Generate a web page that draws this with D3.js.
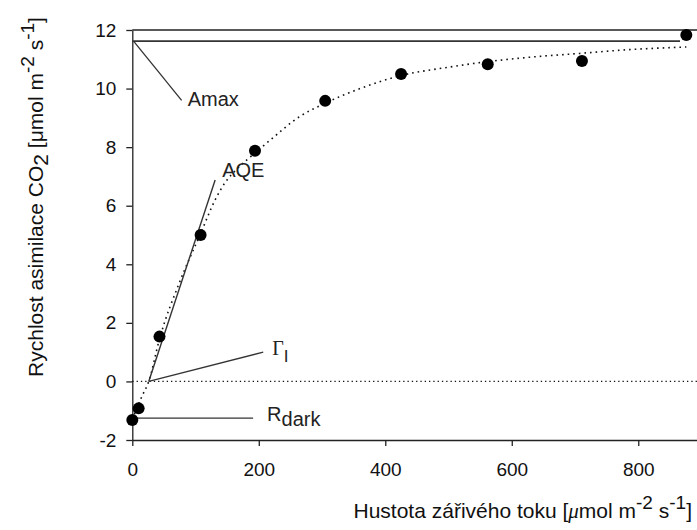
<!DOCTYPE html>
<html>
<head>
<meta charset="utf-8">
<script src="https://cdn.jsdelivr.net/npm/d3@7"></script>
<style>
  body { margin: 0; background: #fff; }
  svg { display: block; font-family: "Liberation Sans", Arial, sans-serif; }
</style>
</head>
<body>
<div id="chart"></div>
<script>
// measured points: light intensity (PAR) vs CO2 assimilation
var par = [0, 10, 43, 108, 194, 305, 425, 562, 711, 876];
var assim = [-1.32, -0.92, 1.53, 5.0, 7.88, 9.58, 10.5, 10.83, 10.94, 11.83];

// fitted light curve
var fitPar = [0, 15, 26, 43, 75, 108, 131, 147, 163, 194, 218, 265, 305, 360, 426, 497, 562, 628, 707, 786, 876];
var fitAssim = [-1.3, -0.52, 0, 1.45, 3.4, 5.05, 6.2, 6.8, 7.2, 7.8, 8.24, 9.05, 9.5, 10.0, 10.45, 10.72, 10.92, 11.07, 11.2, 11.33, 11.42];

var xTicks = [0, 200, 400, 600, 800];
var yTicks = [-2, 0, 2, 4, 6, 8, 10, 12];

// derived parameters
var amax = 11.62;
var rdark = -1.25;
var gammaPar = 26;
var aqeEnd = [131, 6.88];

var W = 697, H = 530;
var svg = d3.select("#chart").append("svg")
  .attr("width", W)
  .attr("height", H);

var x = d3.scaleLinear().domain([0, 900]).range([132.3, 701.5]);
var y = d3.scaleLinear().domain([-2, 12]).range([440, 30]);

var ink = "#222";
var plain = function (d) { return String(d); };

// x axis
var gx = svg.append("g")
  .attr("transform", "translate(0," + y(-2) + ")")
  .call(d3.axisBottom(x).tickValues(xTicks).tickFormat(plain).tickSize(6).tickSizeOuter(0).tickPadding(17));
gx.select(".domain").attr("stroke", ink).attr("stroke-width", 1.3);
gx.selectAll(".tick line").attr("stroke", ink).attr("stroke-width", 1.3);
gx.selectAll("text").attr("font-size", 19).attr("fill", "#111")
  .attr("font-family", "Liberation Sans, Arial, sans-serif");

// y axis
var gy = svg.append("g")
  .attr("transform", "translate(" + x(0) + ",0)")
  .call(d3.axisLeft(y).tickValues(yTicks).tickFormat(plain).tickSize(6).tickSizeOuter(0).tickPadding(10));
gy.select(".domain").attr("stroke", ink).attr("stroke-width", 1.3);
gy.selectAll(".tick line").attr("stroke", ink).attr("stroke-width", 1.3);
gy.selectAll("text").attr("font-size", 19).attr("fill", "#111")
  .attr("font-family", "Liberation Sans, Arial, sans-serif");

// top frame line
svg.append("line")
  .attr("x1", x(0)).attr("x2", W)
  .attr("y1", y(12)).attr("y2", y(12))
  .attr("stroke", ink).attr("stroke-width", 1.3);

// zero line (dotted)
svg.append("line")
  .attr("x1", x(0)).attr("x2", W)
  .attr("y1", y(0)).attr("y2", y(0))
  .attr("stroke", "#111").attr("stroke-width", 1.3)
  .attr("stroke-dasharray", "1.3,3");

// Amax line
svg.append("line")
  .attr("x1", x(0)).attr("x2", x(866))
  .attr("y1", y(amax)).attr("y2", y(amax))
  .attr("stroke", "#333").attr("stroke-width", 1.6);

// fitted curve (dotted)
var fit = fitPar.map(function (d, i) { return [d, fitAssim[i]]; });
var line = d3.line()
  .x(function (d) { return x(d[0]); })
  .y(function (d) { return y(d[1]); })
  .curve(d3.curveMonotoneX);
svg.append("path")
  .attr("d", line(fit))
  .attr("fill", "none")
  .attr("stroke", "#111")
  .attr("stroke-width", 1.6)
  .attr("stroke-dasharray", "1.6,4");

// AQE tangent
svg.append("line")
  .attr("x1", x(gammaPar)).attr("y1", y(0))
  .attr("x2", x(aqeEnd[0])).attr("y2", y(aqeEnd[1]))
  .attr("stroke", "#333").attr("stroke-width", 1.4);

// pointer lines
svg.append("line")
  .attr("x1", x(2)).attr("y1", y(amax))
  .attr("x2", x(78)).attr("y2", y(9.6))
  .attr("stroke", "#333").attr("stroke-width", 1.3);
svg.append("line")
  .attr("x1", x(gammaPar)).attr("y1", y(0))
  .attr("x2", x(207)).attr("y2", y(1.0))
  .attr("stroke", "#333").attr("stroke-width", 1.3);
svg.append("line")
  .attr("x1", x(0)).attr("y1", y(rdark))
  .attr("x2", x(191)).attr("y2", y(rdark))
  .attr("stroke", "#333").attr("stroke-width", 1.3);

// measured points
svg.selectAll("circle.pt")
  .data(par)
  .enter().append("circle")
  .attr("class", "pt")
  .attr("cx", function (d) { return x(d); })
  .attr("cy", function (d, i) { return y(assim[i]); })
  .attr("r", 6)
  .attr("fill", "#000");

// annotation labels
var lab = svg.append("g").attr("font-size", 20).attr("fill", "#222");
lab.append("text").attr("x", x(78) + 6).attr("y", y(9.6) + 6).text("Amax");
lab.append("text").attr("x", x(aqeEnd[0]) + 7).attr("y", y(aqeEnd[1]) - 3).text("AQE");

var g1 = lab.append("text").attr("x", x(207) + 9).attr("y", y(1.0) + 3);
g1.append("tspan").attr("font-family", "Liberation Serif, serif").attr("font-size", 20).text("Γ");
g1.append("tspan").attr("dy", 7).attr("font-size", 17).text("I");

var g2 = lab.append("text").attr("x", x(191) + 14).attr("y", y(rdark) + 3);
g2.append("tspan").text("R");
g2.append("tspan").attr("dy", 5).text("dark");

// x title
var xt = svg.append("text")
  .attr("x", 692).attr("y", 518)
  .attr("text-anchor", "end")
  .attr("font-size", 21).attr("fill", "#111");
xt.append("tspan").text("Hustota zářivého toku [");
xt.append("tspan").attr("font-family", "Liberation Serif, serif").attr("font-style", "italic").text("μ");
xt.append("tspan").text("mol m");
xt.append("tspan").attr("dy", -9).attr("font-size", 19).text("-2");
xt.append("tspan").attr("dy", 9).text(" s");
xt.append("tspan").attr("dy", -9).attr("font-size", 19).text("-1");
xt.append("tspan").attr("dy", 9).text("]");

// y title
var yt = svg.append("text")
  .attr("transform", "translate(43,197) rotate(-90)")
  .attr("text-anchor", "middle")
  .attr("font-size", 21).attr("fill", "#111");
yt.append("tspan").text("Rychlost asimilace CO");
yt.append("tspan").attr("dy", 5).text("2");
yt.append("tspan").attr("dy", -5).text(" [μmol m");
yt.append("tspan").attr("dy", -9).attr("font-size", 19).text("-2");
yt.append("tspan").attr("dy", 9).text(" s");
yt.append("tspan").attr("dy", -9).attr("font-size", 19).text("-1");
yt.append("tspan").attr("dy", 9).text("]");
</script>
</body>
</html>
